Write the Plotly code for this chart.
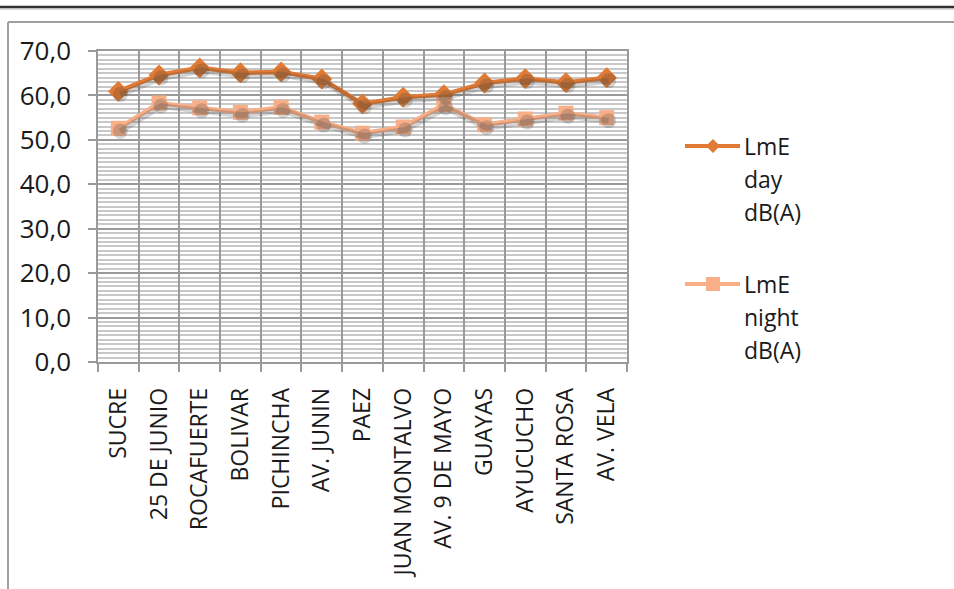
import plotly.graph_objects as go

# Street names and measured levels
streets = ["SUCRE", "25 DE JUNIO", "ROCAFUERTE", "BOLIVAR", "PICHINCHA", "AV. JUNIN",
           "PAEZ", "JUAN MONTALVO", "AV. 9 DE MAYO", "GUAYAS", "AYUCUCHO", "SANTA ROSA",
           "AV. VELA"]
lme_day = [60.9, 64.6, 66.2, 65.1, 65.3, 63.7, 58.1, 59.6, 60.2, 62.8, 63.8, 62.9, 64.0]
lme_night = [52.6, 58.3, 57.2, 56.2, 57.3, 54.0, 51.5, 52.9, 57.9, 53.4, 54.7, 56.0, 55.0]
y_ticks = [0, 10, 20, 30, 40, 50, 60, 70]

series_names = [["LmE", "day", "dB(A)"], ["LmE", "night", "dB(A)"]]
DAY_COLOR = "#E07A34"
NIGHT_COLOR = "#F8AE87"
FONT = "Open Sans"
FONT_SIZE = 23
Y_FONT_SIZE = 26
TEXT_COLOR = "#1a1a1a"

W, H = 954, 589
PX0, PX1, PY0, PY1 = 98, 627, 51, 362   # plot area in pixels (left, right, top, bottom)


def px_x(p):
    return (p - PX0) / (PX1 - PX0)


def px_y(p):
    return (PY1 - p) / (PY1 - PY0)


y_range = [0, 70]
x_range = [-0.5, len(streets) - 0.5]
# drop shadow offset: a few pixels right and down
sh_dy = 3 * (y_range[1] - y_range[0]) / (PY1 - PY0)
sh_dx = 2 * (x_range[1] - x_range[0]) / (PX1 - PX0)

fig = go.Figure()

# soft shadows under the lines
for vals in (lme_day, lme_night):
    fig.add_trace(go.Scatter(
        x=streets, y=vals, mode="lines+markers", xaxis="x2", yaxis="y2",
        line=dict(color="rgba(60,60,60,0.22)", width=6),
        marker=dict(size=15, color="rgba(60,60,60,0.22)"),
        hoverinfo="skip", showlegend=False))

fig.add_trace(go.Scatter(
    x=streets, y=lme_day, mode="lines+markers", name="LmE day dB(A)",
    line=dict(color=DAY_COLOR, width=4.5),
    marker=dict(symbol="diamond", size=16, color=DAY_COLOR),
    showlegend=False))
fig.add_trace(go.Scatter(
    x=streets, y=lme_night, mode="lines+markers", name="LmE night dB(A)",
    line=dict(color=NIGHT_COLOR, width=4.5),
    marker=dict(symbol="square", size=15, color=NIGHT_COLOR),
    showlegend=False))

shapes = []
# rule across the top of the page
shapes.append(dict(type="line", xref="paper", yref="paper",
                   x0=px_x(0), x1=px_x(W), y0=px_y(7), y1=px_y(7),
                   line=dict(color="#303030", width=2.5)))
shapes.append(dict(type="line", xref="paper", yref="paper",
                   x0=px_x(0), x1=px_x(W), y0=px_y(9), y1=px_y(9),
                   line=dict(color="#b0b0b0", width=1)))
# chart frame (top and left edges)
shapes.append(dict(type="line", xref="paper", yref="paper",
                   x0=px_x(8), x1=px_x(W + 5), y0=px_y(22), y1=px_y(22),
                   line=dict(color="#a0a0a0", width=2)))
shapes.append(dict(type="line", xref="paper", yref="paper",
                   x0=px_x(8), x1=px_x(8), y0=px_y(22), y1=px_y(H + 5),
                   line=dict(color="#a0a0a0", width=2)))

annotations = []
# legend drawn as lines, markers and text
legend_rows = [146, 284]
for row, color, sym, names in zip(legend_rows, [DAY_COLOR, NIGHT_COLOR],
                                  ["diamond", "square"], series_names):
    shapes.append(dict(type="line", xref="paper", yref="paper",
                       x0=px_x(685), x1=px_x(740), y0=px_y(row), y1=px_y(row),
                       line=dict(color=color, width=4)))
    cx = 713
    if sym == "diamond":
        path = "M {0},{1} L {2},{3} L {0},{4} L {5},{3} Z".format(
            px_x(cx), px_y(row - 7), px_x(cx + 7), px_y(row), px_y(row + 7), px_x(cx - 7))
        shapes.append(dict(type="path", xref="paper", yref="paper", path=path,
                           fillcolor=color, line=dict(width=0)))
    else:
        shapes.append(dict(type="rect", xref="paper", yref="paper",
                           x0=px_x(cx - 7), x1=px_x(cx + 7),
                           y0=px_y(row - 7), y1=px_y(row + 7),
                           fillcolor=color, line=dict(width=0)))
    for i, txt in enumerate(names):
        annotations.append(dict(text=txt, xref="paper", yref="paper",
                                x=px_x(742), y=px_y(row + 33 * i),
                                xanchor="left", yanchor="middle", showarrow=False,
                                font=dict(family=FONT, size=FONT_SIZE, color=TEXT_COLOR)))

fig.update_layout(
    width=W, height=H,
    margin=dict(l=PX0, r=W - PX1, t=PY0, b=H - PY1, pad=0),
    paper_bgcolor="white", plot_bgcolor="white",
    separators=",.",
    font=dict(family=FONT, size=FONT_SIZE, color=TEXT_COLOR),
    shapes=shapes, annotations=annotations,
    xaxis=dict(
        type="category", categoryorder="array", categoryarray=streets,
        range=x_range, tickangle=-90, tickson="boundaries",
        showgrid=True, gridcolor="#9a9a9a", gridwidth=1.5,
        ticks="outside", ticklen=8, tickcolor="#9a9a9a", tickwidth=1.5,
        showline=True, linecolor="#9a9a9a", linewidth=1.5, mirror=True,
        ticklabelstandoff=15, tickfont=dict(family=FONT, size=FONT_SIZE, color=TEXT_COLOR),
        zeroline=False),
    yaxis=dict(
        range=y_range, tickvals=y_ticks, tickformat=".1f",
        showgrid=True, gridcolor="#9a9a9a", gridwidth=1.5,
        minor=dict(dtick=1, tick0=0, showgrid=True, gridcolor="#c8c8c8", gridwidth=1.5,
                   ticks=""),
        ticks="outside", ticklen=8, tickcolor="#9a9a9a", tickwidth=1.5,
        showline=True, linecolor="#9a9a9a", linewidth=1.5, mirror=True,
        ticklabelstandoff=12, tickfont=dict(family=FONT, size=Y_FONT_SIZE, color=TEXT_COLOR),
        zeroline=False),
    xaxis2=dict(type="category", categoryorder="array", categoryarray=streets,
                range=[x_range[0] - sh_dx, x_range[1] - sh_dx],
                overlaying="x", visible=False),
    yaxis2=dict(range=[y_range[0] + sh_dy, y_range[1] + sh_dy],
                overlaying="y", visible=False),
)

fig.write_html("out.html")
